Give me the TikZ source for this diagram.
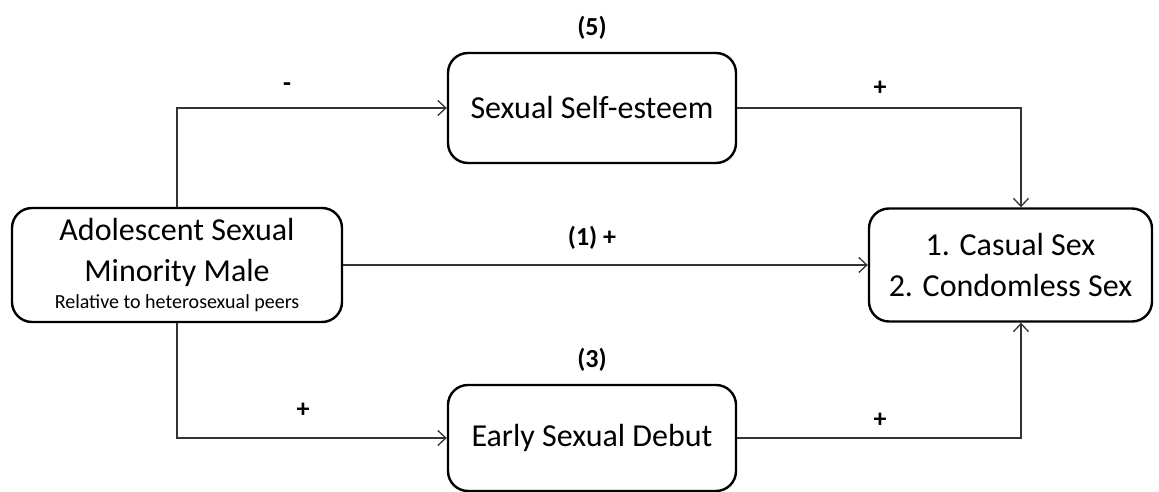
\documentclass[tikz,border=0pt]{standalone}
\usepackage{fontspec}
\setmainfont{Carlito}
\usetikzlibrary{arrows.meta,calc}
\begin{document}
\begin{tikzpicture}[x=1pt,y=-1pt,
  box/.style={draw=black,line width=2.4pt,rounded corners=20pt,fill=white,align=center,inner sep=0pt,
    font=\fontsize{32}{41}\selectfont},
  conn/.style={draw=black!80,line width=1.4pt,-{Straight Barb[length=8pt,width=15pt,line width=1.3pt]}},
  lbl/.style={font=\fontsize{26}{28}\selectfont\bfseries,inner sep=0pt}]
\useasboundingbox (0,0) rectangle (1159,492);
\node[box,minimum width=330pt,minimum height=114pt] (src) at (177,265)
  {Adolescent Sexual\\Minority Male\\[-14pt]{\fontsize{20}{22}\selectfont Relative to heterosexual peers}};
\node[box,minimum width=288pt,minimum height=110pt] (sse) at (592,108) {Sexual Self-esteem};
\node[box,minimum width=288pt,minimum height=106pt] (esd) at (592,438) {Early Sexual Debut};
\node[box,minimum width=283pt,minimum height=113pt] (out) at (1010.5,265) {1. Casual Sex\\2. Condomless Sex};
\draw[conn] (src.north) |- (sse.west);
\draw[conn] (src.south) |- (esd.west);
\draw[conn] (src.east) -- (out.west);
\draw[conn] (sse.east) -| ([xshift=10.5pt]out.north);
\draw[conn] (esd.east) -| ([xshift=10.5pt]out.south);
\node[lbl] (l5) at (592,28) {(5)};
\node[lbl] (lm) at (287,87) {-};
\node[lbl] (lp1) at (880,88) {+};
\node[lbl] (l1) at (592,238) {(1) +};
\node[lbl] (l3) at (592,360) {(3)};
\node[lbl] (lp2) at (303,410) {+};
\node[lbl] (lp3) at (880,420) {+};
\end{tikzpicture}
\end{document}
